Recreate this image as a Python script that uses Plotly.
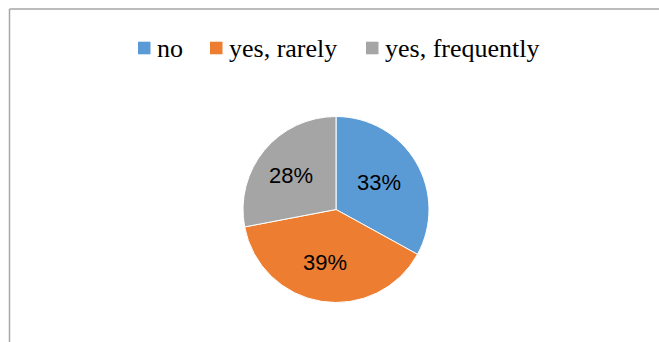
import math
import plotly.graph_objects as go

W, H = 659, 342

categories = ["no", "yes, rarely", "yes, frequently"]
shares = [33, 39, 28]
colors = ["#5B9BD5", "#ED7D31", "#A5A5A5"]

# pie geometry in pixels
cx, cy, r = 336, 209.5, 93

fig = go.Figure(
    go.Pie(
        labels=categories,
        values=shares,
        sort=False,
        direction="clockwise",
        rotation=0,
        marker=dict(colors=colors, line=dict(color="white", width=1)),
        textinfo="none",
        hoverinfo="label+percent",
        showlegend=False,
        domain=dict(x=[(cx - r) / W, (cx + r) / W], y=[1 - (cy + r) / H, 1 - (cy - r) / H]),
    )
)

shapes = []
annotations = []

# percentage labels at 58% of the radius along each slice's bisector
total = sum(shares)
start = 0.0
for v in shares:
    mid = (start + v / 2) / total * 2 * math.pi
    start += v
    px = cx - 3 + 0.58 * r * math.sin(mid)
    py = cy - 0.58 * r * math.cos(mid)
    annotations.append(dict(
        text=f"{round(100 * v / total)}%", xref="paper", yref="paper",
        x=px / W, y=1 - py / H, xanchor="center", yanchor="middle", showarrow=False,
        font=dict(family="Liberation Sans, Arial, sans-serif", size=22, color="black"),
    ))

# legend row: colour square followed by the category name
legend_x = [138, 210, 366]
legend_y = 48
for name, col, x0 in zip(categories, colors, legend_x):
    shapes.append(dict(
        type="rect", xref="paper", yref="paper",
        x0=x0 / W, x1=(x0 + 12.5) / W,
        y0=1 - (legend_y + 6.3) / H, y1=1 - (legend_y - 6.3) / H,
        fillcolor=col, line=dict(width=0),
    ))
    annotations.append(dict(
        text=name, xref="paper", yref="paper",
        x=(x0 + 17) / W, y=1 - (legend_y + 1) / H,
        xanchor="left", yanchor="middle", showarrow=False,
        font=dict(family="Liberation Serif, Times New Roman, serif", size=26, color="black"),
    ))

# chart frame (top and left edges)
frame = dict(color="#A6A6A6", width=1.5)
shapes.append(dict(type="line", xref="paper", yref="paper",
                   x0=9.5 / W, x1=1, y0=1 - 9 / H, y1=1 - 9 / H, line=frame))
shapes.append(dict(type="line", xref="paper", yref="paper",
                   x0=9.5 / W, x1=9.5 / W, y0=0, y1=1 - 9 / H, line=frame))

fig.update_layout(
    width=W, height=H,
    margin=dict(l=0, r=0, t=0, b=0),
    paper_bgcolor="white", plot_bgcolor="white",
    shapes=shapes, annotations=annotations,
)

fig.write_html("out.html")
